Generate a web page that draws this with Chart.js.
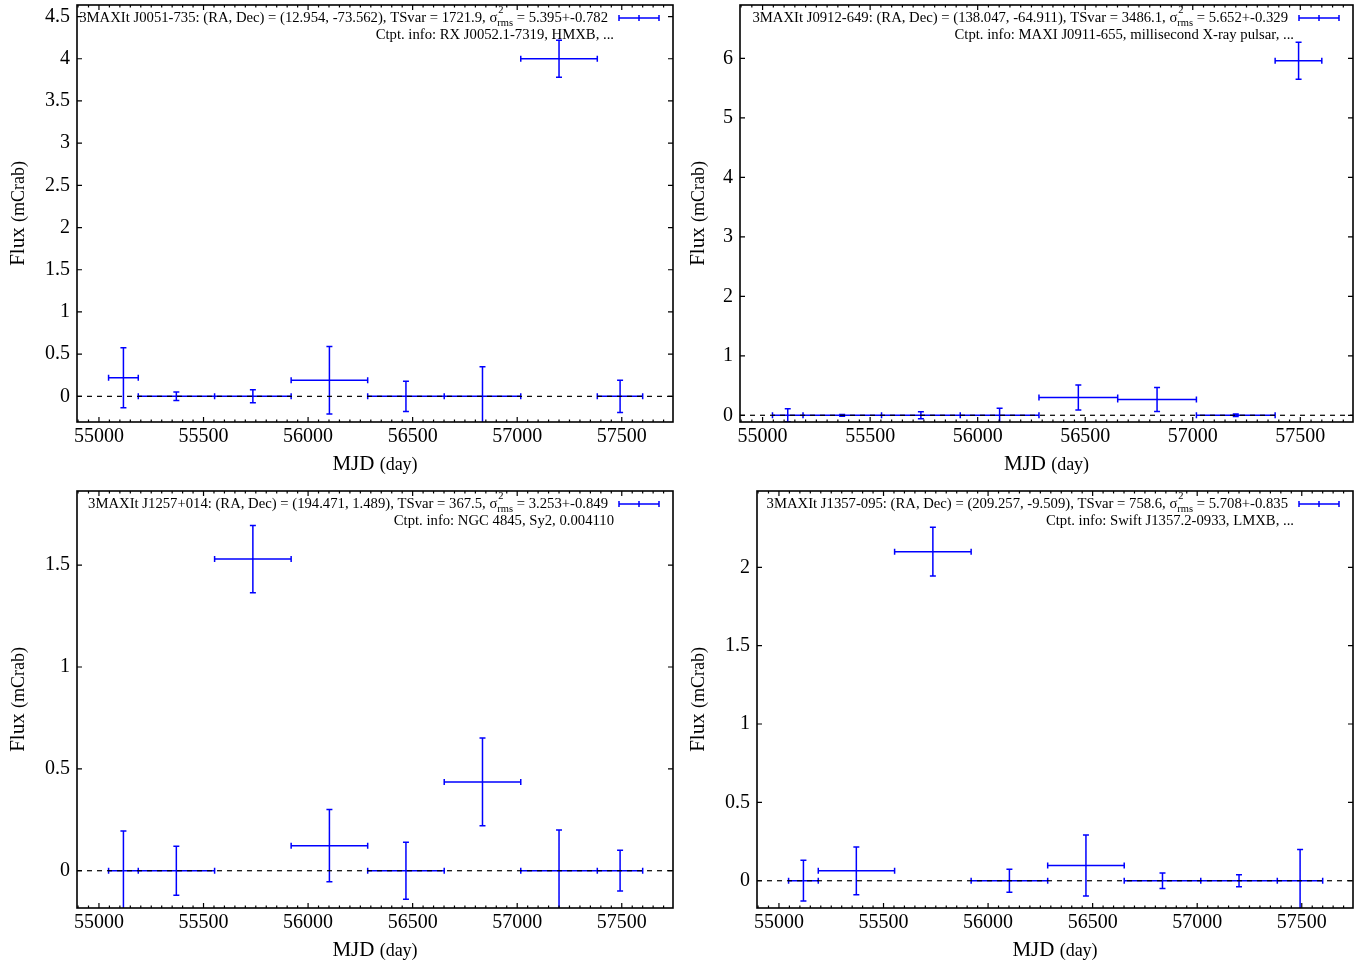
<!DOCTYPE html>
<html><head><meta charset="utf-8">
<script src="https://cdn.jsdelivr.net/npm/chart.js@4"></script>
<style>
html,body{margin:0;padding:0;background:#fff;width:1364px;height:965px;overflow:hidden;}
canvas{position:absolute;}
</style></head><body>
<canvas id="c1" width="682" height="482" style="left:0;top:0"></canvas>
<canvas id="c2" width="682" height="482" style="left:682px;top:0"></canvas>
<canvas id="c3" width="682" height="483" style="left:0;top:482px"></canvas>
<canvas id="c4" width="682" height="483" style="left:682px;top:482px"></canvas>
<script>
// ---- data ----
const binStart  = [55046, 55188, 55553, 55919, 56285, 56651, 57017, 57383];
const binEnd    = [55188, 55553, 55919, 56285, 56651, 57017, 57383, 57600];
const binCenter = [55117, 55370, 55736, 56102, 56468, 56834, 57200, 57492];
const xTicks = [55000, 55500, 56000, 56500, 57000, 57500];

const flux1 = [0.22, 0, 0, 0.19, 0, 0, 4.0, 0];
const err1  = [0.355, 0.05, 0.077, 0.40, 0.18, 0.35, 0.22, 0.19];
const flux2 = [0, 0, 0, 0, 0.30, 0.265, 0, 5.96];
const err2  = [0.11, 0.015, 0.06, 0.12, 0.21, 0.20, 0.02, 0.31];
const flux3 = [0, 0, 1.53, 0.123, 0, 0.436, 0, 0];
const err3  = [0.195, 0.12, 0.165, 0.177, 0.14, 0.215, 0.20, 0.10];
const flux4 = [0, 0.063, 2.10, 0, 0.097, 0, 0, 0];
const err4  = [0.13, 0.153, 0.155, 0.074, 0.195, 0.05, 0.038, 0.20];

const yTicks1 = [0, 0.5, 1, 1.5, 2, 2.5, 3, 3.5, 4, 4.5];
const yTicks2 = [0, 1, 2, 3, 4, 5, 6];
const yTicks3 = [0, 0.5, 1, 1.5];
const yTicks4 = [0, 0.5, 1, 1.5, 2];

const srcNames = ["3MAXIt J0051-735", "3MAXIt J0912-649", "3MAXIt J1257+014", "3MAXIt J1357-095"];
const raDecs   = ["(12.954, -73.562)", "(138.047, -64.911)", "(194.471, 1.489)", "(209.257, -9.509)"];
const tsVars   = ["1721.9", "3486.1", "367.5", "758.6"];
const sigmas   = ["5.395+-0.782", "5.652+-0.329", "3.253+-0.849", "5.708+-0.835"];
const ctpts    = ["RX J0052.1-7319, HMXB, ...", "MAXI J0911-655, millisecond X-ray pulsar, ...", "NGC 4845, Sy2, 0.004110", "Swift J1357.2-0933, LMXB, ..."];

const xLabelMain = "MJD", xLabelUnit = "(day)";
const yLabelMain = "Flux", yLabelUnit = "(mCrab)";

// ---- layout / style ----
const FAM = "'Liberation Serif', 'Times New Roman', serif";
const BLUE = '#0000ff';
const X_MIN = 54895, X_MAX = 57745;

const panels = [
  {id:'c1', flux:flux1, err:err1, yMin:-0.304, yMax:4.637, yTicks:yTicks1, yW:77, padR:9,  padT:5, xH:60, tX:18},
  {id:'c2', flux:flux2, err:err2, yMin:-0.113, yMax:6.896, yTicks:yTicks2, yW:58, padR:11, padT:5, xH:60, tX:16},
  {id:'c3', flux:flux3, err:err3, yMin:-0.183, yMax:1.864, yTicks:yTicks3, yW:77, padR:9,  padT:9, xH:57, tX:18},
  {id:'c4', flux:flux4, err:err4, yMin:-0.174, yMax:2.487, yTicks:yTicks4, yW:75, padR:11, padT:9, xH:57, tX:16},
];

const errPlugin = {
  id: 'errbars',
  beforeDatasetsDraw(chart) {
    const ctx = chart.ctx, a = chart.chartArea;
    const xs = chart.scales.x, ys = chart.scales.y;
    const pts = chart.data.datasets[0].data;
    const c = 3;
    ctx.save();
    ctx.beginPath(); ctx.rect(a.left, a.top, a.right - a.left, a.bottom - a.top); ctx.clip();
    ctx.strokeStyle = BLUE; ctx.lineWidth = 1.5;
    ctx.beginPath();
    for (const p of pts) {
      const px0 = xs.getPixelForValue(p.xMin), px1 = xs.getPixelForValue(p.xMax), pxc = xs.getPixelForValue(p.x);
      const py = ys.getPixelForValue(p.y), pyl = ys.getPixelForValue(p.y - p.yErr), pyh = ys.getPixelForValue(p.y + p.yErr);
      ctx.moveTo(px0, py); ctx.lineTo(px1, py);
      ctx.moveTo(px0, py - c); ctx.lineTo(px0, py + c);
      ctx.moveTo(px1, py - c); ctx.lineTo(px1, py + c);
      ctx.moveTo(pxc, pyl); ctx.lineTo(pxc, pyh);
      ctx.moveTo(pxc - c, pyl); ctx.lineTo(pxc + c, pyl);
      ctx.moveTo(pxc - c, pyh); ctx.lineTo(pxc + c, pyh);
    }
    ctx.stroke();
    ctx.restore();
  },
  afterDraw(chart) {
    const ctx = chart.ctx, a = chart.chartArea;
    const xs = chart.scales.x, ys = chart.scales.y;
    const k = chart.options.plugins.errbars.idx;
    ctx.save();
    // frame
    ctx.strokeStyle = '#000'; ctx.lineWidth = 1.6;
    ctx.strokeRect(a.left, a.top, a.right - a.left, a.bottom - a.top);
    // ticks
    ctx.lineWidth = 1.2;
    ctx.beginPath();
    const M = 5, m = 2.5;
    for (const t of xs.ticks) {
      const px = xs.getPixelForValue(t.value);
      ctx.moveTo(px, a.bottom); ctx.lineTo(px, a.bottom - M);
      ctx.moveTo(px, a.top); ctx.lineTo(px, a.top + M);
    }
    for (let v = Math.ceil(xs.min / 50) * 50; v <= xs.max; v += 50) {
      if (v % 500 === 0) continue;
      const px = xs.getPixelForValue(v);
      ctx.moveTo(px, a.bottom); ctx.lineTo(px, a.bottom - m);
      ctx.moveTo(px, a.top); ctx.lineTo(px, a.top + m);
    }
    for (const t of ys.ticks) {
      const py = ys.getPixelForValue(t.value);
      ctx.moveTo(a.left, py); ctx.lineTo(a.left + M, py);
      ctx.moveTo(a.right, py); ctx.lineTo(a.right - M, py);
    }
    ctx.stroke();

    // axis titles
    ctx.fillStyle = '#000';
    ctx.textBaseline = 'middle';
    ctx.textAlign = 'left';
    ctx.font = `21px ${FAM}`;
    const wM = ctx.measureText(xLabelMain + ' ').width;
    ctx.font = `18px ${FAM}`;
    const wU = ctx.measureText(xLabelUnit).width;
    const cx = (a.left + a.right) / 2;
    let x0 = cx - (wM + wU) / 2;
    const ty = a.bottom + 42;
    ctx.font = `21px ${FAM}`; ctx.fillText(xLabelMain + ' ', x0, ty);
    ctx.font = `18px ${FAM}`; ctx.fillText(xLabelUnit, x0 + wM, ty + 1);

    ctx.save();
    const tX = chart.options.plugins.errbars.tX;
    ctx.translate(tX, (a.top + a.bottom) / 2);
    ctx.rotate(-Math.PI / 2);
    ctx.font = `21px ${FAM}`;
    const wF = ctx.measureText(yLabelMain + ' ').width;
    ctx.font = `18px ${FAM}`;
    const wC = ctx.measureText(yLabelUnit).width;
    x0 = -(wF + wC) / 2;
    ctx.font = `21px ${FAM}`; ctx.fillText(yLabelMain + ' ', x0, 0);
    ctx.font = `18px ${FAM}`; ctx.fillText(yLabelUnit, x0 + wF, 1);
    ctx.restore();

    // key text
    const f = 14.7, fs = 10.5;
    const y1 = a.top + 13;
    const partA = `${srcNames[k]}: (RA, Dec) = ${raDecs[k]}, TSvar = ${tsVars[k]}, \u03c3`;
    const partB = ` = ${sigmas[k]}`;
    ctx.font = `${f}px ${FAM}`;
    const wA = ctx.measureText(partA).width, wB = ctx.measureText(partB).width;
    ctx.font = `${fs}px ${FAM}`;
    const wS = Math.max(ctx.measureText('2').width, ctx.measureText('rms').width);
    let kx = a.right - 65 - (wA + wS + wB);
    ctx.font = `${f}px ${FAM}`; ctx.fillText(partA, kx, y1);
    kx += wA;
    ctx.font = `${fs}px ${FAM}`;
    ctx.fillText('2', kx + 1, y1 - 8);
    ctx.fillText('rms', kx, y1 + 5);
    kx += wS;
    ctx.font = `${f}px ${FAM}`; ctx.fillText(partB, kx, y1);
    ctx.textAlign = 'right';
    ctx.fillText('Ctpt. info: ' + ctpts[k], a.right - 59, a.top + 30);

    // key sample
    ctx.strokeStyle = BLUE; ctx.lineWidth = 1.5;
    const s0 = a.right - 54, s1 = a.right - 14, sm = (s0 + s1) / 2;
    ctx.beginPath();
    ctx.moveTo(s0, y1); ctx.lineTo(s1, y1);
    ctx.moveTo(s0, y1 - 3); ctx.lineTo(s0, y1 + 3);
    ctx.moveTo(s1, y1 - 3); ctx.lineTo(s1, y1 + 3);
    ctx.moveTo(sm, y1 - 3); ctx.lineTo(sm, y1 + 3);
    ctx.stroke();
    ctx.restore();
  }
};

Chart.defaults.font.family = FAM;
Chart.defaults.color = '#000';

panels.forEach((p, k) => {
  const pts = binCenter.map((x, i) => ({x: x, y: p.flux[i], xMin: binStart[i], xMax: binEnd[i], yErr: p.err[i]}));
  new Chart(document.getElementById(p.id), {
    type: 'scatter',
    data: {
      datasets: [
        {data: pts, pointRadius: 0, showLine: false, borderColor: BLUE, backgroundColor: BLUE},
        {type: 'line', data: [{x: X_MIN, y: 0}, {x: X_MAX, y: 0}], borderColor: '#000', borderWidth: 1.2,
         borderDash: [5, 5], pointRadius: 0, fill: false}
      ]
    },
    options: {
      responsive: false, animation: false, events: [],
      layout: {padding: {left: 0, top: p.padT, right: p.padR, bottom: 0}},
      plugins: {legend: {display: false}, tooltip: {enabled: false}, errbars: {idx: k, tX: p.tX}},
      scales: {
        x: {
          type: 'linear', min: X_MIN, max: X_MAX,
          grid: {display: false, drawTicks: false}, border: {display: false},
          afterBuildTicks: s => { s.ticks = xTicks.map(v => ({value: v})); },
          afterFit: s => { s.height = p.xH; s.paddingLeft = 0; s.paddingRight = 0; },
          ticks: {color: '#000', font: {size: 20}, padding: 3, maxRotation: 0, autoSkip: false, callback: v => String(v)}
        },
        y: {
          type: 'linear', min: p.yMin, max: p.yMax,
          grid: {display: false, drawTicks: false}, border: {display: false},
          afterBuildTicks: s => { s.ticks = p.yTicks.map(v => ({value: v})); },
          afterFit: s => { s.width = p.yW; s.paddingTop = 0; s.paddingBottom = 0; },
          ticks: {color: '#000', font: {size: 20}, padding: 7, autoSkip: false, callback: v => String(v)}
        }
      }
    },
    plugins: [errPlugin]
  });
});
</script>
</body></html>
